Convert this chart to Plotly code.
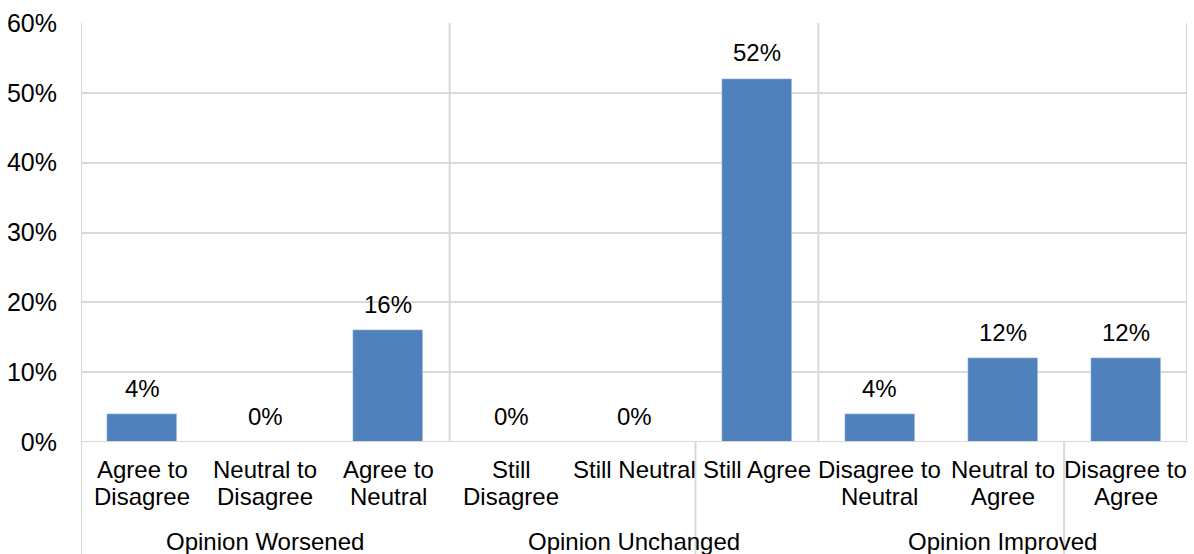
import plotly.graph_objects as go

categories = ["Agree to<br>Disagree", "Neutral to<br>Disagree", "Agree to<br>Neutral",
              "Still<br>Disagree", "Still Neutral", "Still Agree",
              "Disagree to<br>Neutral", "Neutral to<br>Agree", "Disagree to<br>Agree"]
values = [4, 0, 16, 0, 0, 52, 4, 12, 12]
groups = ["Opinion Worsened", "Opinion Unchanged", "Opinion Improved"]
group_sizes = [3, 3, 3]
y_ticks = [0, 10, 20, 30, 40, 50, 60]
y_tick_labels = ["0%", "10%", "20%", "30%", "40%", "50%", "60%"]

FONT = "Liberation Sans, Arial, sans-serif"
FS = 24
GRID = "#d9d9d9"
x = list(range(len(values)))

fig = go.Figure()
fig.add_trace(go.Bar(x=x, y=values, marker_color="#4f81bd", width=0.57,
                     hoverinfo="skip"))

ann = []
for xi, v in zip(x, values):
    ann.append(dict(x=xi, y=v, xref="x", yref="y", text=f"{v}%", showarrow=False,
                    yanchor="middle", yshift=26, font=dict(size=FS, color="#000")))
for xi, c in zip(x, categories):
    for li, line in enumerate(c.split("<br>")):
        ann.append(dict(x=xi, y=0, xref="x", yref="paper", text=line, showarrow=False,
                        yanchor="middle", yshift=-27 - 27 * li,
                        font=dict(size=FS, color="#000")))
start = 0
for g, n in zip(groups, group_sizes):
    center = start + (n - 1) / 2
    ann.append(dict(x=center, y=0, xref="x", yref="paper", text=g, showarrow=False,
                    yanchor="middle", yshift=-99, font=dict(size=FS, color="#000")))
    start += n

shapes = []
start = 0
for n in group_sizes[:-1]:
    start += n
    shapes.append(dict(type="line", xref="x", yref="paper", x0=start - 0.5, x1=start - 0.5,
                       y0=0, y1=1, line=dict(color=GRID, width=2)))
shapes.append(dict(type="line", xref="x", yref="paper", x0=len(values) - 0.5, x1=len(values) - 0.5,
                   y0=0, y1=1, line=dict(color=GRID, width=2)))
shapes.append(dict(type="line", xref="x", yref="paper", x0=-0.5, x1=-0.5,
                   y0=-0.28, y1=1, line=dict(color=GRID, width=2)))
for xs in [4.5, 7.5]:
    shapes.append(dict(type="line", xref="x", yref="paper", x0=xs, x1=xs,
                       y0=-0.28, y1=0, line=dict(color=GRID, width=2)))
shapes.append(dict(type="line", xref="paper", yref="y", x0=0, x1=1, y0=0, y1=0,
                   line=dict(color=GRID, width=2)))

fig.update_layout(
    width=1194, height=554,
    margin=dict(l=81, r=7, t=23, b=112),
    plot_bgcolor="white", paper_bgcolor="white",
    showlegend=False,
    font=dict(family=FONT, size=FS, color="#000"),
    xaxis=dict(range=[-0.5, len(values) - 0.5], showticklabels=False, showgrid=False,
               zeroline=False, fixedrange=True),
    yaxis=dict(range=[0, 60], tickmode="array", tickvals=y_ticks, ticktext=y_tick_labels,
               showgrid=True, gridcolor=GRID, gridwidth=2, zeroline=False, ticks="",
               tickfont=dict(size=25, color="#000"), ticklabelstandoff=23),
    annotations=ann, shapes=shapes, bargap=0,
)

fig.write_html("out.html")
